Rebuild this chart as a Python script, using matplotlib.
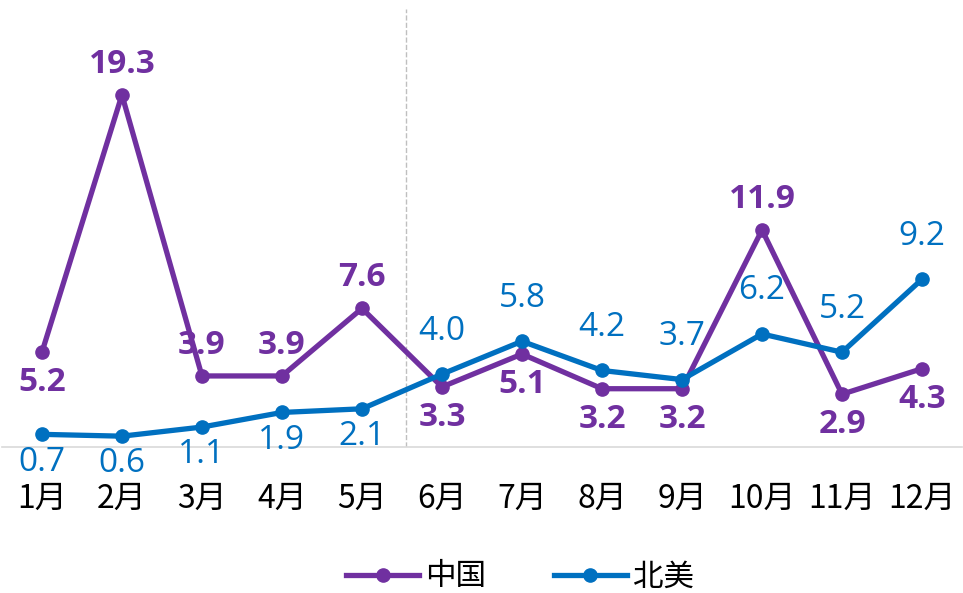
import numpy as np
import matplotlib.pyplot as plt

plt.rcParams['font.family'] = ['Noto Sans CJK SC', 'DejaVu Sans']

months = ['1月', '2月', '3月', '4月', '5月', '6月', '7月', '8月', '9月', '10月', '11月', '12月']
china = [5.2, 19.3, 3.9, 3.9, 7.6, 3.3, 5.1, 3.2, 3.2, 11.9, 2.9, 4.3]
north_america = [0.7, 0.6, 1.1, 1.9, 2.1, 4.0, 5.8, 4.2, 3.7, 6.2, 5.2, 9.2]

# label placement: +1 above the point, -1 below
china_pos = [-1, 1, 1, 1, 1, -1, -1, -1, -1, 1, -1, -1]
na_pos = [-1, -1, -1, -1, -1, 1, 1, 1, 1, 1, 1, 1]

purple = '#7030A0'
blue = '#0070C0'

fig = plt.figure(figsize=(9.63, 5.93), dpi=100)
ax = fig.add_axes([0.002, 0.246, 0.997, 0.754])

x = np.arange(len(months))
ax.plot(x, china, color=purple, lw=3.8, marker='o', ms=9.5, label='中国', zorder=3)
ax.plot(x, north_america, color=blue, lw=3.8, marker='o', ms=9.5, label='北美', zorder=4)

for xi, v, p in zip(x, china, china_pos):
    ax.annotate(f'{v:.1f}', (xi, v), xytext=(0, 22 if p > 0 else -22), textcoords='offset points',
                ha='center', va='center', fontsize=24, fontweight='bold', color=purple,
                family=['Open Sans', 'DejaVu Sans'])
for xi, v, p in zip(x, north_america, na_pos):
    ax.annotate(f'{v:.1f}', (xi, v), xytext=(0, 31 if p > 0 else -20), textcoords='offset points',
                ha='center', va='center', fontsize=24, color=blue,
                family=['Open Sans', 'DejaVu Sans'])

ax.axvline(4.55, ymin=0, ymax=0.98, color='#BFBFBF', lw=1, ls='--', zorder=1)

ax.set_xlim(-0.5, 11.5)
ax.set_ylim(0, 24.5)
ax.set_xticks(x)
ax.set_xticklabels(months, fontsize=23)
ax.tick_params(axis='x', length=0, pad=26)
ax.set_yticks([])
for s in ['top', 'right', 'left']:
    ax.spines[s].set_visible(False)
ax.spines['bottom'].set_color('#D9D9D9')
ax.spines['bottom'].set_linewidth(1.2)

fig.legend(loc='center', bbox_to_anchor=(0.54, 0.027), ncol=2, frameon=False,
           fontsize=22, handlelength=2.4, columnspacing=2.2, handletextpad=0.2)

fig.savefig('out.png', dpi=100)
